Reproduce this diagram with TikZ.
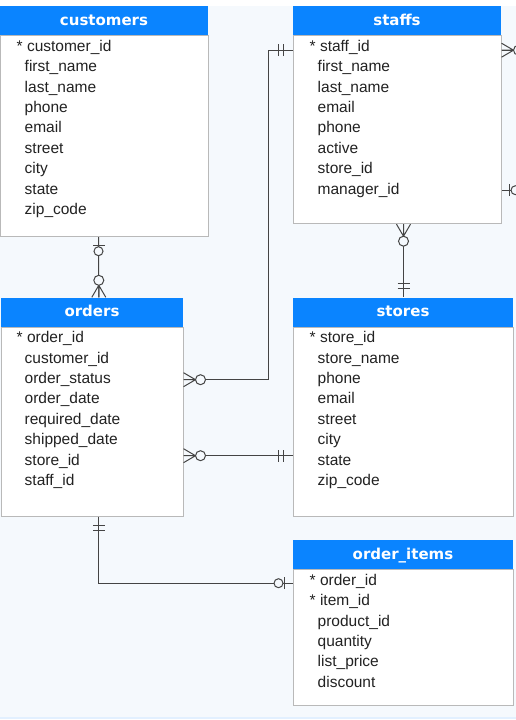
\documentclass[tikz,border=0pt]{standalone}
\usepackage{fontspec}
\setmainfont{Liberation Sans}
\newfontfamily\hdfont{DejaVu Sans}
\usetikzlibrary{positioning,calc}
\definecolor{bgblue}{HTML}{F5F9FD}
\definecolor{hdblue}{HTML}{0A84FF}
\definecolor{boxgray}{HTML}{B9B9B9}
\definecolor{linegray}{HTML}{444444}
\definecolor{textdark}{HTML}{222222}
\tikzset{
  head/.style={fill=hdblue, text=white, font=\hdfont\bfseries\fontsize{15}{18}\selectfont,
    minimum height=29pt, inner sep=0pt, text height=9pt, text depth=0pt},
  tbody/.style={draw=boxgray, fill=white, line width=1pt, inner sep=0pt, anchor=north},
  field/.style={anchor=base west, inner sep=0pt, text=textdark, font=\fontsize{15.5}{18}\selectfont},
  rel/.style={draw=linegray, line width=1pt},
  zmany/.pic={\draw[rel] (0,-7) -- (12,0) -- (0,7) (0,0) -- (12,0);
    \draw[rel, fill=bgblue] (17,0) circle (5);},
  onlyone/.pic={\draw[rel] (9,-6) -- (9,6) (14,-6) -- (14,6);},
  zone/.pic={\draw[rel] (8,-6) -- (8,6); \draw[rel, fill=bgblue] (14,0) circle (4.5);}
}
\begin{document}
\begin{tikzpicture}[x=1pt,y=-1pt]
\useasboundingbox (0,0) rectangle (516,720);
\clip (0,0) rectangle (516,720);
\fill[white] (0,0) rectangle (516,720);
\fill[bgblue] (0,6) rectangle (516,717);
\fill[hdblue!12] (0,717) rectangle (516,718.5);
% tables
\node[head, minimum width=208pt] (customers) at (104,20.5) {customers};
\node[tbody, minimum width=208pt, minimum height=201pt, below=0pt of customers] (customers-b) {};
\node[field] at ($(customers-b.north west)+(17,16)$) {* customer\_id};
\foreach \f [count=\i] in {first\_name,last\_name,phone,email,street,city,state,zip\_code}
  \node[field] (customers-\i) at ($(customers-b.north west)+(25,16+20.4*\i)$) {\f};

\node[head, minimum width=208pt] (staffs) at (397,20.5) {staffs};
\node[tbody, minimum width=208pt, minimum height=188pt, below=0pt of staffs] (staffs-b) {};
\node[field] at ($(staffs-b.north west)+(17,16)$) {* staff\_id};
\foreach \f [count=\i] in {first\_name,last\_name,email,phone,active,store\_id,manager\_id}
  \node[field] (staffs-\i) at ($(staffs-b.north west)+(25,16+20.4*\i)$) {\f};

\node[head, minimum width=182pt] (orders) at (92,312) {orders};
\node[tbody, minimum width=182pt, minimum height=189pt, below=0pt of orders] (orders-b) {};
\node[field] at ($(orders-b.north west)+(16,16)$) {* order\_id};
\foreach \f [count=\i] in {customer\_id,order\_status,order\_date,required\_date,shipped\_date,store\_id,staff\_id}
  \node[field] (orders-\i) at ($(orders-b.north west)+(24,16+20.4*\i)$) {\f};

\node[head, minimum width=220pt] (stores) at (403,312) {stores};
\node[tbody, minimum width=220pt, minimum height=189pt, below=0pt of stores] (stores-b) {};
\node[field] at ($(stores-b.north west)+(17,16)$) {* store\_id};
\foreach \f [count=\i] in {store\_name,phone,email,street,city,state,zip\_code}
  \node[field] (stores-\i) at ($(stores-b.north west)+(25,16+20.4*\i)$) {\f};

\node[head, minimum width=220pt] (items) at (403,554.5) {order\_items};
\node[tbody, minimum width=220pt, minimum height=136pt, below=0pt of items] (items-b) {};
\foreach \f [count=\i from 0] in {order\_id,item\_id}
  \node[field] (items-k\i) at ($(items-b.north west)+(17,16+20.4*\i)$) {* \f};
\foreach \f [count=\i from 2] in {product\_id,quantity,list\_price,discount}
  \node[field] (items-\i) at ($(items-b.north west)+(25,16+20.4*\i)$) {\f};

% connector ends
\coordinate (co1) at ($(customers-b.south west)+(99,0)$);
\coordinate (co2) at ($(orders.north west)+(98,0)$);
\coordinate (os1) at ($(orders-b.north east)+(0,53)$);
\coordinate (os2) at ($(staffs-b.north west)+(0,15)$);
\coordinate (ot1) at ($(orders-b.north east)+(0,129)$);
\coordinate (ot2) at (stores-b.west |- ot1);
\coordinate (ss1) at ($(staffs-b.south west)+(111,0)$);
\coordinate (ss2) at (stores.north -| ss1);
\coordinate (oi1) at ($(orders-b.south west)+(98,0)$);
\coordinate (oi2) at ($(items-b.north west)+(0,14)$);
\coordinate (sm1) at ($(staffs-b.north east)+(0,15)$);
\coordinate (sm2) at ($(staffs-b.north east)+(0,155)$);

% relations
\draw[rel] (co1) -- (co2);
\draw[rel] (os1) -| ([xshift=-24pt]os2) -- (os2);
\draw[rel] (ot1) -- (ot2);
\draw[rel] (ss1) -- (ss2);
\draw[rel] (oi1) |- (oi2);
\draw[rel] (sm1) -- ++(30,0) |- (sm2);

\pic[rotate=-90] at (co1) {zone};
\pic[rotate=90] at (co2) {zmany};
\pic at (os1) {zmany};
\pic[rotate=180] at (os2) {onlyone};
\pic at (ot1) {zmany};
\pic[rotate=180] at (ot2) {onlyone};
\pic[rotate=-90] at (ss1) {zmany};
\pic[rotate=90] at (ss2) {onlyone};
\pic[rotate=-90] at (oi1) {onlyone};
\pic[rotate=180] at (oi2) {zone};
\pic at (sm1) {zmany};
\pic at (sm2) {zone};
\end{tikzpicture}
\end{document}
